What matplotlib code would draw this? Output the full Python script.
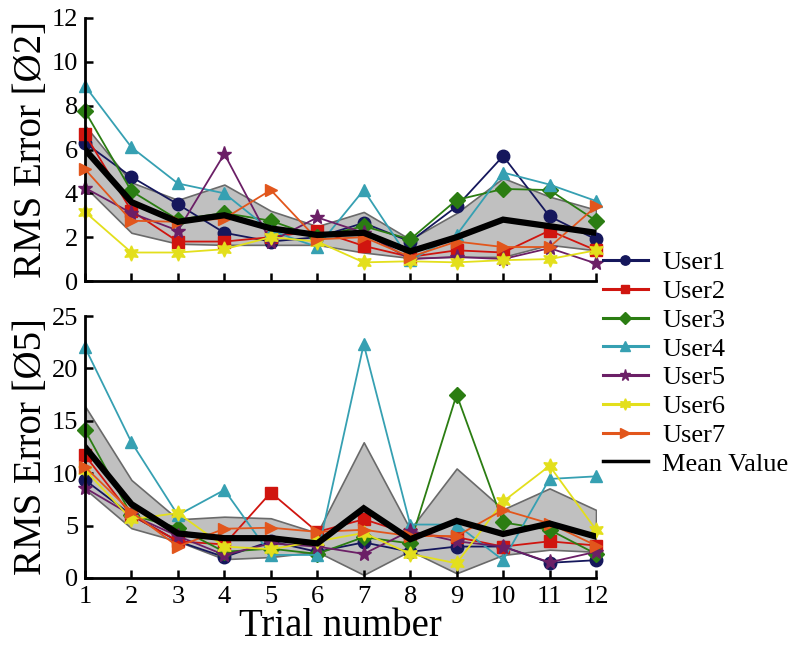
import matplotlib
matplotlib.use("Agg")
import matplotlib.pyplot as plt
from matplotlib.lines import Line2D
import numpy as np

trials = list(range(1, 13))
users = ["User1", "User2", "User3", "User4", "User5", "User6", "User7"]

# Top panel (Ø2)
top_user1 = [6.3, 4.75, 3.5, 2.2, 1.8, 2.0, 2.65, 1.8, 3.4, 5.7, 2.95, 1.9]
top_user2 = [6.7, 3.2, 1.8, 1.8, 2.0, 2.3, 1.6, 1.1, 1.4, 1.3, 2.3, 1.4]
top_user3 = [7.75, 4.1, 2.8, 3.1, 2.75, 2.0, 2.5, 1.9, 3.7, 4.2, 4.15, 2.75]
top_user4 = [8.9, 6.1, 4.45, 4.0, 2.3, 1.55, 4.15, 0.95, 2.1, 4.95, 4.4, 3.65]
top_user5 = [4.25, 3.1, 2.3, 5.8, 1.8, 2.9, 2.2, 1.0, 1.1, 1.0, 1.5, 0.8]
top_user6 = [3.15, 1.3, 1.3, 1.45, 2.0, 1.8, 0.85, 0.9, 0.85, 0.95, 1.0, 1.4]
top_user7 = [5.1, 2.75, 2.7, 2.85, 4.15, 1.9, 2.0, 1.1, 1.8, 1.55, 1.55, 3.4]
top_mean = [6.0, 3.6, 2.7, 3.0, 2.4, 2.1, 2.2, 1.35, 2.0, 2.8, 2.5, 2.2]
top_band_lo = [4.3, 2.2, 1.7, 1.65, 1.65, 1.65, 1.3, 1.05, 1.1, 1.1, 1.65, 1.4]
top_band_hi = [7.1, 4.5, 3.7, 4.4, 3.2, 2.5, 3.15, 1.9, 3.1, 4.7, 3.85, 3.25]

# Bottom panel (Ø5)
bot_user1 = [9.35, 6.0, 3.5, 2.0, 3.5, 2.5, 3.4, 2.5, 3.0, 3.0, 1.45, 1.7]
bot_user2 = [11.7, 6.0, 3.5, 3.2, 8.15, 4.4, 5.6, 4.2, 3.9, 3.0, 3.5, 3.1]
bot_user3 = [14.1, 6.0, 4.8, 2.5, 2.8, 2.3, 3.9, 3.3, 17.5, 5.3, 4.6, 2.3]
bot_user4 = [22.0, 12.95, 6.0, 8.4, 2.2, 2.2, 22.3, 5.1, 5.1, 1.7, 9.45, 9.7]
bot_user5 = [8.6, 6.0, 4.0, 2.2, 3.3, 3.0, 2.3, 4.5, 3.5, 3.0, 1.5, 2.5]
bot_user6 = [10.3, 5.6, 6.2, 3.0, 2.75, 3.5, 4.3, 2.3, 1.4, 7.3, 10.7, 4.6]
bot_user7 = [10.6, 6.3, 3.0, 4.7, 4.8, 4.4, 4.6, 4.0, 4.0, 6.5, 5.2, 3.1]
bot_mean = [12.5, 7.05, 4.25, 3.8, 3.8, 3.3, 6.65, 3.7, 5.45, 4.2, 5.2, 3.95]
bot_band_lo = [8.5, 4.75, 3.5, 1.8, 2.0, 2.5, 0.3, 2.6, 0.45, 2.2, 2.7, 2.5]
bot_band_hi = [16.4, 9.35, 5.6, 5.85, 5.7, 4.3, 12.95, 4.65, 10.45, 6.55, 8.55, 6.5]

top_ylabel = "RMS Error [Ø2]"
bot_ylabel = "RMS Error [Ø5]"
xlabel = "Trial number"
mean_label = "Mean Value"

colors = ["#15175c", "#d0150f", "#2b7d12", "#36a0b2", "#6b1f66", "#e3df1c", "#e2561c"]
markers = ["o", "s", "D", "^", "*", (6, 1, 0), ">"]
msizes = [9, 8, 8, 9, 11, 11, 9]

plt.rcParams["font.family"] = ["Liberation Serif", "DejaVu Serif"]

fig = plt.figure(figsize=(8, 6.51), dpi=100)
ax1 = fig.add_axes([85/800, 1-281/651, 511/800, 263/651])
ax2 = fig.add_axes([85/800, 1-578/651, 511/800, 262/651])

def draw(ax, series, mean, lo, hi):
    ax.fill_between(trials, lo, hi, facecolor="#c0c0c0", edgecolor="#6a6a6a",
                    linewidth=1.2, zorder=1)
    for i, s in enumerate(series):
        ax.plot(trials, s, color=colors[i], marker=markers[i],
                markersize=msizes[i], linewidth=1.3, zorder=2 + i * 0.1,
                markeredgecolor=colors[i], clip_on=False)
    ax.plot(trials, mean, color="black", linewidth=4.5, zorder=3.5,
            solid_joinstyle="miter")
    ax.set_xlim(1, 12)
    ax.set_xticks(trials)
    for sp in ["top", "right"]:
        ax.spines[sp].set_visible(False)
    for sp in ["left", "bottom"]:
        ax.spines[sp].set_linewidth(2.0)
    ax.tick_params(direction="in", length=6, width=1.8, labelsize=19, pad=5)

draw(ax1, [top_user1, top_user2, top_user3, top_user4, top_user5, top_user6, top_user7],
     top_mean, top_band_lo, top_band_hi)
draw(ax2, [bot_user1, bot_user2, bot_user3, bot_user4, bot_user5, bot_user6, bot_user7],
     bot_mean, bot_band_lo, bot_band_hi)

ax1.set_ylim(0, 12)
ax1.set_yticks([0, 2, 4, 6, 8, 10, 12])
ax1.tick_params(axis="x", labelbottom=False)
ax2.set_ylim(0, 25)
ax2.set_yticks([0, 5, 10, 15, 20, 25])
ax2.tick_params(axis="x", pad=6)

ax1.set_ylabel(top_ylabel, fontsize=28, labelpad=1)
ax2.set_ylabel(bot_ylabel, fontsize=28, labelpad=1)
ax2.set_xlabel(xlabel, fontsize=28, labelpad=0)

leg_handles = [Line2D([], [], color=colors[i], marker=markers[i],
                      markersize=msizes[i] * 0.75, linewidth=2.2,
                      markeredgecolor=colors[i]) for i in range(7)]
leg_handles.append(Line2D([], [], color="black", linewidth=2.5))

fig.legend(leg_handles, users + [mean_label], loc="upper left",
           bbox_to_anchor=(603/800, 1-251/651), frameon=False, fontsize=19,
           handlelength=1.7, handletextpad=0.55, labelspacing=0.2,
           borderaxespad=0, borderpad=0)

fig.savefig("out.png", dpi=100)
